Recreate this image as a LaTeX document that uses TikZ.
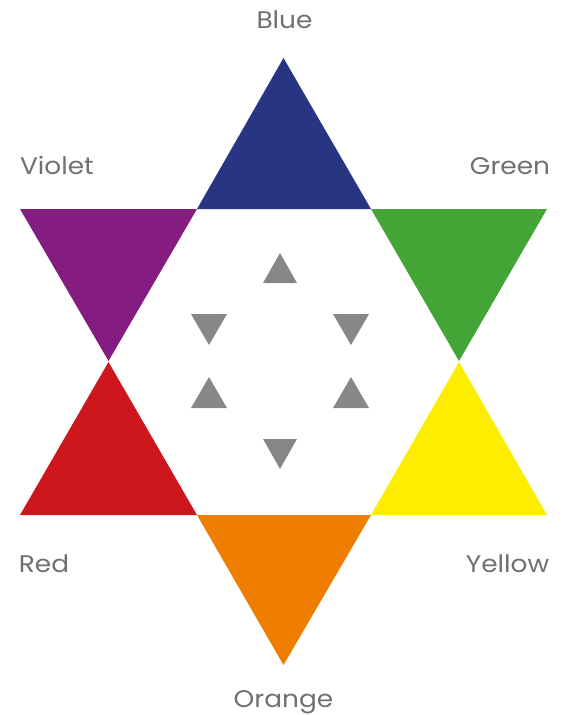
\documentclass[tikz,border=0pt]{standalone}
\usepackage{fontspec}
\setmainfont{Poppins}[FakeStretch=1.1]
\definecolor{cblue}{HTML}{283583}
\definecolor{cviolet}{HTML}{851D80}
\definecolor{cgreen}{HTML}{42A535}
\definecolor{cred}{HTML}{CD171C}
\definecolor{cyellow}{HTML}{FFED00}
\definecolor{corange}{HTML}{EF7D00}
\definecolor{cgray}{HTML}{878787}
\definecolor{ctext}{HTML}{707070}
\begin{document}
\begin{tikzpicture}[x=1pt,y=-1pt,
  lbl/.style={text=ctext,font=\fontsize{24}{24}\selectfont,inner sep=0pt,text height=17pt,text depth=0pt},
  small/.style={fill=cgray}]
\useasboundingbox (0,0) rectangle (563,715);
% big triangles
\fill[cblue]   (283.5,58) -- (197,209) -- (371,209) -- cycle;
\fill[cviolet] (20,209) -- (197,209) -- (108.5,361) -- cycle;
\fill[cgreen]  (371,209) -- (547,209) -- (459,361) -- cycle;
\fill[cred]    (108.5,362) -- (197,515) -- (20,515) -- cycle;
\fill[cyellow] (459,362) -- (547,515) -- (371,515) -- cycle;
\fill[corange] (197,515) -- (371,515) -- (283.5,665) -- cycle;
% small triangles
\fill[small] (280,253) -- (297,283) -- (263,283) -- cycle;
\fill[small] (191,314) -- (227,314) -- (209,345) -- cycle;
\fill[small] (333,314) -- (369,314) -- (351,345) -- cycle;
\fill[small] (209,377) -- (227,408) -- (191,408) -- cycle;
\fill[small] (351,377) -- (369,408) -- (333,408) -- cycle;
\fill[small] (263,439) -- (297,439) -- (280,469) -- cycle;
% labels
\node[lbl] (blue)   at (284.5,19.5) {Blue};
\node[lbl] (violet) at (57,165.5) {Violet};
\node[lbl] (green)  at (510,165.5) {Green};
\node[lbl] (red)    at (44,564) {Red};
\node[lbl] (yellow) at (507.5,564) {Yellow};
\node[lbl] (orange) at (283.5,698.5) {Orange};
\end{tikzpicture}
\end{document}
